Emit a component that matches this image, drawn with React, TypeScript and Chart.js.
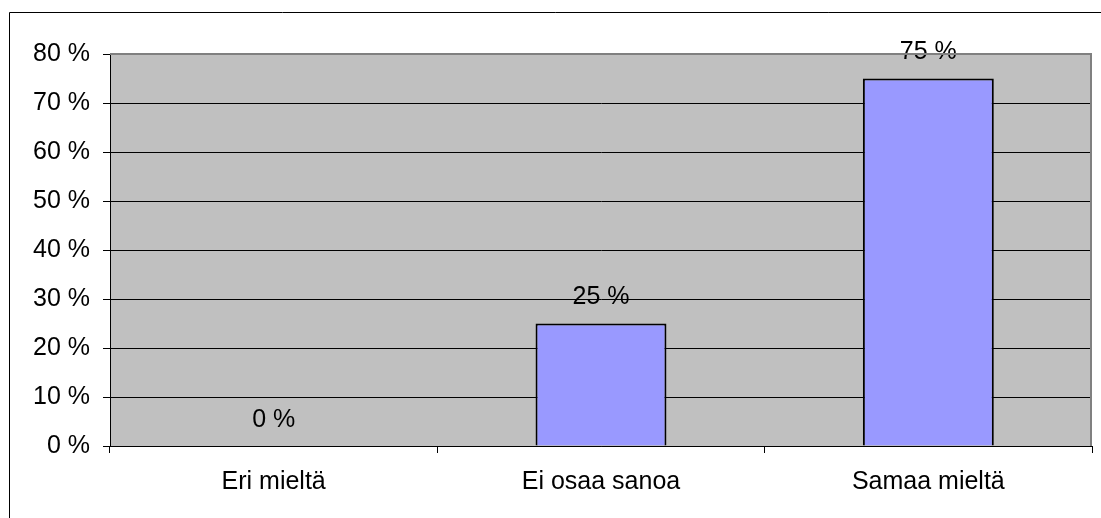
import React, { useEffect, useRef } from "react";
import { Chart, registerables } from "chart.js";

Chart.register(...registerables);

const categories = ["Eri mieltä", "Ei osaa sanoa", "Samaa mieltä"];
const shares = [0, 25, 75];
const yTicks = [0, 10, 20, 30, 40, 50, 60, 70, 80];

const FONT = "'Liberation Sans', Arial, sans-serif";

// Outer frame, gray plot background and the gray top/right plot edges
const framePlugin = {
  id: "frame",
  beforeDraw(chart: any) {
    const { ctx, chartArea, width, height } = chart;
    ctx.save();
    ctx.fillStyle = "#ffffff";
    ctx.fillRect(0, 0, width, height);
    ctx.strokeStyle = "#000000";
    ctx.lineWidth = 1;
    ctx.beginPath();
    ctx.moveTo(9.5, height);
    ctx.lineTo(9.5, 12.5);
    ctx.lineTo(width, 12.5);
    ctx.stroke();
    ctx.fillStyle = "#c0c0c0";
    ctx.fillRect(
      chartArea.left,
      chartArea.top,
      chartArea.right - chartArea.left,
      chartArea.bottom - chartArea.top
    );
    ctx.restore();
  },
  afterDraw(chart: any) {
    const { ctx, chartArea } = chart;
    ctx.save();
    ctx.strokeStyle = "#808080";
    ctx.lineWidth = 2;
    ctx.beginPath();
    ctx.moveTo(chartArea.left, chartArea.top);
    ctx.lineTo(chartArea.right - 1, chartArea.top);
    ctx.lineTo(chartArea.right - 1, chartArea.bottom);
    ctx.stroke();
    ctx.restore();
  },
};

// Percentage labels above each bar
const valueLabelPlugin = {
  id: "valueLabels",
  afterDatasetsDraw(chart: any) {
    const { ctx } = chart;
    const meta = chart.getDatasetMeta(0);
    ctx.save();
    ctx.fillStyle = "#000000";
    ctx.font = `25px ${FONT}`;
    ctx.textAlign = "center";
    ctx.textBaseline = "middle";
    meta.data.forEach((bar: any, i: number) => {
      ctx.fillText(`${shares[i]} %`, bar.x, bar.y - 26);
    });
    ctx.restore();
  },
};

export default function App() {
  const canvasRef = useRef<HTMLCanvasElement | null>(null);

  useEffect(() => {
    const canvas = canvasRef.current;
    if (!canvas) return;
    const chart = new Chart(canvas, {
      type: "bar",
      data: {
        labels: categories,
        datasets: [
          {
            data: shares,
            backgroundColor: "#9999ff",
            borderColor: "#000000",
            borderWidth: 2,
            barPercentage: 0.4,
            categoryPercentage: 1,
          },
        ],
      },
      options: {
        responsive: false,
        animation: false,
        events: [],
        layout: { padding: { top: 54, right: 9, left: 0, bottom: 0 } },
        plugins: {
          legend: { display: false },
          tooltip: { enabled: false },
        },
        scales: {
          x: {
            offset: true,
            afterFit(scale: any) {
              scale.height = 72;
            },
            grid: {
              offset: true,
              drawOnChartArea: false,
              drawTicks: true,
              tickLength: 7,
              tickColor: "#000000",
            },
            border: { display: true, color: "#000000", width: 1 },
            ticks: {
              color: "#000000",
              font: { family: FONT, size: 25 },
              padding: 14,
              maxRotation: 0,
            },
          },
          y: {
            min: 0,
            max: 80,
            afterFit(scale: any) {
              scale.width = 110;
            },
            afterBuildTicks(scale: any) {
              scale.ticks = yTicks.map((v) => ({ value: v }));
            },
            grid: {
              color: (c: any) => (c.tick && c.tick.value === 80 ? "#808080" : "#000000"),
              lineWidth: 1,
              drawTicks: true,
              tickLength: 7,
              tickColor: "#000000",
            },
            border: { display: true, color: "#000000", width: 1 },
            ticks: {
              color: "#000000",
              font: { family: FONT, size: 25 },
              padding: 13,
              callback: (v: any) => `${v} %`,
            },
          },
        },
      },
      plugins: [framePlugin, valueLabelPlugin],
    });
    return () => chart.destroy();
  }, []);

  return (
    <div style={{ position: "absolute", left: 0, top: 0, width: 1101, height: 518 }}>
      <canvas ref={canvasRef} width={1101} height={518} style={{ display: "block" }} />
    </div>
  );
}
